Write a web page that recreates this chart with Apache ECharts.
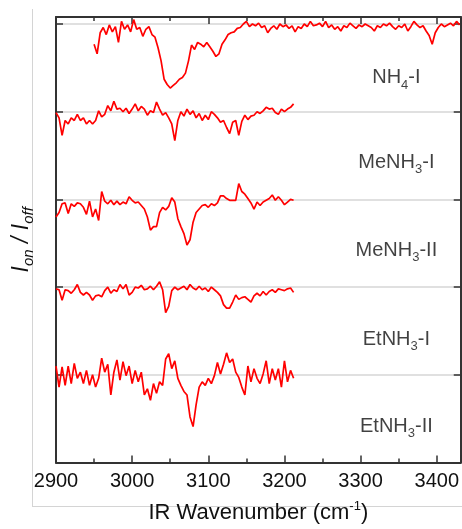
<!DOCTYPE html>
<html><head><meta charset="utf-8">
<script src="https://cdn.jsdelivr.net/npm/echarts@6/dist/echarts.min.js"></script>
<style>html,body{margin:0;padding:0;background:#fff}#c{width:462px;height:529px}</style>
</head><body><div id="c"></div>
<script>
const FONT = '"Liberation Sans", Arial, sans-serif';

// ---- data ----
const xTickValues = [2900, 3000, 3100, 3200, 3300, 3400];
const seriesLabels = ['{m|NH}{s|4}{m|-I}', '{m|MeNH}{s|3}{m|-I}', '{m|MeNH}{s|3}{m|-II}', '{m|EtNH}{s|3}{m|-I}', '{m|EtNH}{s|3}{m|-II}'];
const startWavenumber = [2950, 2900, 2900, 2900, 2900];
const wavenumberStep = 4;
const baselineOffsets = [5, 4, 3, 2, 1];

// deviations of I_on/I_off from each trace's baseline, sampled every 4 cm-1
const nh4I = [
 -0.23,-0.34,-0.10,-0.04,-0.12,-0.01,-0.09,-0.03,-0.21,0.03,
 -0.06,-0.01,-0.09,0.05,-0.06,-0.04,-0.14,-0.06,-0.03,-0.12,
 -0.15,-0.27,-0.42,-0.63,-0.69,-0.73,-0.70,-0.67,-0.63,-0.61,
 -0.56,-0.42,-0.24,-0.29,-0.21,-0.23,-0.26,-0.21,-0.26,-0.31,
 -0.37,-0.34,-0.23,-0.18,-0.12,-0.10,-0.09,-0.05,-0.04,0.00,
 0.03,-0.03,0.00,-0.02,0.01,-0.04,-0.02,-0.10,-0.05,-0.02,
 -0.06,0.00,-0.03,-0.01,-0.05,-0.02,-0.09,-0.03,-0.05,0.00,
 -0.03,0.03,-0.02,-0.01,0.01,-0.03,0.03,-0.04,-0.01,-0.06,
 -0.03,-0.08,-0.02,-0.04,0.01,-0.02,-0.05,-0.01,-0.03,0.00,
 -0.02,-0.04,-0.08,-0.02,-0.04,0.00,-0.02,0.01,-0.03,-0.06,
 -0.02,-0.04,0.00,-0.08,-0.03,0.03,-0.01,-0.04,-0.02,-0.08,
 -0.13,-0.23,-0.10,-0.04,0.00,-0.03,-0.01,0.01,-0.02,0.03,-0.01
];
const meNH3I = [
 -0.01,-0.07,-0.27,-0.10,-0.14,-0.07,-0.10,-0.03,-0.10,-0.07,
 -0.14,-0.10,-0.14,-0.10,0.01,-0.06,-0.03,0.07,0.01,0.12,
 0.03,0.04,0.00,0.04,-0.02,0.03,0.09,0.01,0.06,0.03,
 -0.04,0.01,-0.01,0.11,0.03,-0.04,-0.01,-0.07,-0.14,-0.33,
 -0.10,0.00,-0.05,0.03,-0.03,0.01,-0.07,-0.02,-0.10,-0.04,
 -0.09,0.00,-0.03,-0.07,-0.12,-0.10,-0.18,-0.25,-0.12,-0.10,
 -0.27,-0.11,-0.04,-0.09,-0.05,-0.04,0.00,-0.02,0.01,0.05,
 0.03,0.04,-0.01,-0.03,0.03,0.00,0.03,0.05,0.09
];
const meNH3II = [
 -0.20,-0.15,-0.05,-0.04,-0.16,-0.05,-0.08,-0.04,-0.05,-0.09,
 -0.17,-0.02,-0.20,-0.11,-0.24,0.09,-0.02,-0.05,-0.01,-0.06,
 -0.02,-0.06,-0.03,-0.05,0.03,-0.01,-0.04,-0.03,-0.07,-0.11,
 -0.20,-0.35,-0.31,-0.31,-0.15,-0.09,-0.12,-0.08,0.02,-0.03,
 -0.22,-0.31,-0.39,-0.52,-0.46,-0.26,-0.15,-0.11,-0.07,-0.06,
 -0.09,-0.05,-0.07,-0.04,0.04,0.04,0.01,-0.01,-0.01,-0.01,
 0.18,0.09,0.06,0.01,-0.04,-0.11,-0.03,-0.07,-0.03,-0.01,
 0.01,0.05,-0.01,0.03,-0.01,-0.06,-0.03,0.00,-0.01
];
const etNH3I = [
 -0.02,-0.03,-0.15,-0.03,-0.04,-0.07,-0.03,0.03,-0.06,-0.09,
 -0.06,-0.09,-0.15,-0.10,-0.09,-0.11,-0.04,0.00,-0.07,-0.03,
 -0.05,0.03,-0.02,0.03,-0.09,-0.06,0.00,-0.01,0.02,-0.03,
 -0.02,0.01,-0.03,0.01,0.06,-0.03,-0.29,-0.22,-0.04,0.00,
 -0.03,-0.01,0.01,-0.03,0.03,-0.01,-0.03,0.01,-0.03,-0.01,
 -0.05,0.00,-0.03,-0.06,-0.10,-0.20,-0.24,-0.24,-0.17,-0.09,
 -0.14,-0.12,-0.11,-0.14,-0.17,-0.10,-0.07,-0.10,-0.05,-0.09,
 -0.05,-0.03,-0.06,-0.02,-0.03,-0.04,-0.02,-0.01,-0.06
];
const etNH3II = [
 0.10,-0.14,0.09,-0.12,0.10,-0.10,0.13,-0.04,0.03,-0.10,
 0.05,-0.12,0.00,-0.14,-0.04,0.19,0.03,0.12,-0.23,0.03,
 0.17,-0.06,0.15,-0.01,0.10,-0.10,0.05,-0.08,0.03,-0.23,
 -0.16,-0.29,-0.10,-0.21,-0.08,-0.12,0.18,0.24,0.07,0.16,
 -0.04,-0.12,-0.19,-0.23,-0.48,-0.59,-0.34,-0.14,-0.08,-0.12,
 -0.04,-0.10,-0.01,0.14,0.01,0.12,0.25,0.14,0.18,0.03,
 -0.03,-0.14,-0.23,0.10,-0.08,0.07,-0.04,-0.10,0.01,0.16,
 -0.10,0.07,-0.06,0.07,-0.14,0.16,-0.08,0.05,-0.04
];
// label anchor (wavenumber, y) for each trace name
const labelX = [3347, 3347, 3347, 3347, 3347];
const labelY = [4.385, 3.425, 2.413, 1.402, 0.413];

// ---- chart ----
const traces = [nh4I, meNH3I, meNH3II, etNH3I, etNH3II];
const lineSeries = traces.map((vals, k) => ({
  type: 'line',
  data: vals.map((v, i) => [startWavenumber[k] + i * wavenumberStep, baselineOffsets[k] + v]),
  showSymbol: false, symbol: 'none',
  lineStyle: { color: '#ff0000', width: 1.7 },
  z: 3
}));

const axisColor = '#333';
const xMin = 2900, xMax = 3431.5;
const common = {
  type: 'value', min: xMin, max: xMax, interval: 100,
  axisLine: { show: true, onZero: false, lineStyle: { color: axisColor, width: 2 } },
  axisTick: { show: true, inside: true, length: 7, lineStyle: { color: axisColor, width: 1.5 } },
  minorTick: { show: true, splitNumber: 2, length: 4, lineStyle: { color: axisColor, width: 1.5 } },
  splitLine: { show: false }
};

const chart = echarts.init(document.getElementById('c'), null, { renderer: 'canvas' });
chart.setOption({
  animation: false,
  backgroundColor: '#fff',
  grid: { left: 56, right: 1, top: 17, bottom: 60, containLabel: false },
  xAxis: [
    Object.assign({}, common, {
      position: 'bottom',
      axisLabel: {
        show: true, fontSize: 20, color: '#111', fontFamily: FONT, margin: 9,
        showMaxLabel: false, formatter: v => (xTickValues.indexOf(v) >= 0 ? String(v) : '')
      },
      name: '{a|IR Wavenumber (cm}{sup|-1}{a|)}',
      nameLocation: 'middle', nameGap: 37,
      nameTextStyle: {
        rich: {
          a: { fontSize: 22, color: '#111', fontFamily: FONT },
          sup: { fontSize: 13, color: '#111', fontFamily: FONT, padding: [0, 0, 14, 0] }
        }
      }
    }),
    Object.assign({}, common, { position: 'top', axisLabel: { show: false } })
  ],
  yAxis: [
    {
      type: 'value', min: 0, max: 5.08, interval: 1, position: 'left',
      axisLine: { show: true, onZero: false, lineStyle: { color: axisColor, width: 2 } },
      axisTick: { show: true, inside: true, length: 7, lineStyle: { color: axisColor, width: 1.5 } },
      axisLabel: { show: false },
      splitLine: { show: true, lineStyle: { color: '#d6d6d6', width: 1.5 } },
      name: '{i|I}{s|on}{i| / I}{s|off}',
      nameLocation: 'middle', nameGap: 20, nameRotate: 90,
      nameTextStyle: {
        rich: {
          i: { fontSize: 23, fontStyle: 'italic', color: '#111', fontFamily: FONT },
          s: { fontSize: 15, fontStyle: 'italic', color: '#111', fontFamily: FONT, padding: [14, 0, 0, 0] }
        }
      }
    },
    {
      type: 'value', min: 0, max: 5.08, interval: 1, position: 'right',
      axisLine: { show: true, onZero: false, lineStyle: { color: axisColor, width: 2 } },
      axisTick: { show: true, inside: true, length: 7, lineStyle: { color: axisColor, width: 1.5 } },
      axisLabel: { show: false },
      splitLine: { show: false }
    }
  ],
  graphic: [
    { type: 'line', shape: { x1: 32.5, y1: 9, x2: 32.5, y2: 507 }, style: { stroke: '#d4d4d4', lineWidth: 1 }, silent: true },
    { type: 'line', shape: { x1: 32.5, y1: 506.5, x2: 462, y2: 506.5 }, style: { stroke: '#d4d4d4', lineWidth: 1 }, silent: true }
  ],
  series: lineSeries.concat([{
    type: 'scatter', symbolSize: 0, z: 5,
    data: labelX.map((x, i) => [x, labelY[i]]),
    label: {
      show: true, position: 'inside',
      formatter: p => seriesLabels[p.dataIndex],
      rich: {
        m: { fontSize: 20, color: '#111', fontFamily: FONT },
        s: { fontSize: 13, color: '#111', fontFamily: FONT, padding: [14, 0, 0, 0] }
      }
    }
  }])
});
</script></body></html>
